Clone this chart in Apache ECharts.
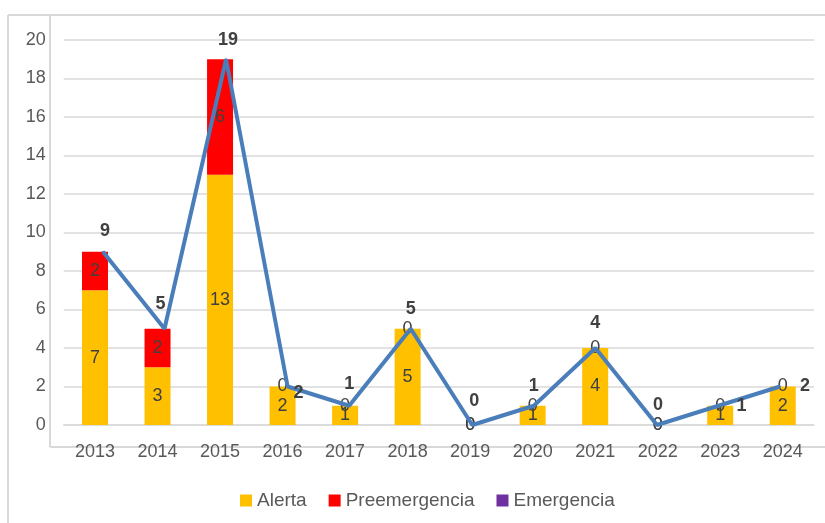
<!DOCTYPE html>
<html>
<head>
<meta charset="utf-8">
<script src="https://cdn.jsdelivr.net/npm/echarts@6/dist/echarts.min.js"></script>
<style>
html,body{margin:0;padding:0;background:#fff;}
#chart{width:825px;height:523px;}
</style>
</head>
<body>
<div id="chart"></div>
<script>
// ---- data ----
var years = ['2013','2014','2015','2016','2017','2018','2019','2020','2021','2022','2023','2024'];
var alerta = [7, 3, 13, 2, 1, 5, 0, 1, 4, 0, 1, 2];
var preemergencia = [2, 2, 6, 0, 0, 0, 0, 0, 0, 0, 0, 0];
var emergencia = [0, 0, 0, 0, 0, 0, 0, 0, 0, 0, 0, 0];
var totals = [9, 5, 19, 2, 1, 5, 0, 1, 4, 0, 1, 2];
var yTicks = { min: 0, max: 20, interval: 2 };

// label placement for total labels (style, not data)
var totalLabelOffsets = [[2,-21],[-4,-25],[2,-19],[11,7],[0,-22],[0,-20],[2,-24],[0,-20],[0,-25],[1,-20],[23,0],[25,0]];

var FONT = 'Liberation Sans';
var labelColor = '#404040';
var axisColor = '#595959';
var gridColor = '#d9d9d9';
var SYM = 2;

var chart = echarts.init(document.getElementById('chart'), null, {renderer: 'canvas'});

var totalData = totals.map(function (v, i) {
  var o = totalLabelOffsets[i];
  return {
    value: v,
    label: { position: [SYM / 2 + o[0], SYM / 2 + o[1]], align: 'center', verticalAlign: 'middle' }
  };
});

var option = {
  backgroundColor: '#ffffff',
  animation: false,
  textStyle: { fontFamily: FONT },
  grid: [
    { left: 63.75, right: 11, top: 40, bottom: 98 },
    { left: 72.2, right: 14.2, top: 40, bottom: 98 }
  ],
  graphic: [
    { type: 'line', shape: {x1: 8, y1: 15, x2: 825, y2: 15}, style: {stroke: gridColor, lineWidth: 2}, z: -1 },
    { type: 'line', shape: {x1: 8, y1: 15, x2: 8, y2: 523}, style: {stroke: gridColor, lineWidth: 2}, z: -1 },
    { type: 'line', shape: {x1: 50, y1: 15, x2: 50, y2: 447}, style: {stroke: gridColor, lineWidth: 2}, z: -1 },
    { type: 'line', shape: {x1: 50, y1: 447, x2: 825, y2: 447}, style: {stroke: gridColor, lineWidth: 2}, z: -1 }
  ],
  legend: {
    data: ['Alerta', 'Preemergencia', 'Emergencia'],
    left: 235,
    top: 486,
    icon: 'rect',
    itemWidth: 12,
    itemHeight: 12,
    itemGap: 22,
    textStyle: { fontFamily: FONT, fontSize: 19, color: axisColor }
  },
  xAxis: [
    {
      type: 'category', gridIndex: 0, data: years,
      axisTick: { show: false },
      axisLine: { show: true, lineStyle: { color: gridColor, width: 1.5 } },
      axisLabel: { fontFamily: FONT, fontSize: 18, color: axisColor, margin: 18 }
    },
    {
      type: 'category', gridIndex: 1, data: years, show: false
    }
  ],
  yAxis: [
    {
      type: 'value', gridIndex: 0, min: yTicks.min, max: yTicks.max, interval: yTicks.interval,
      axisLine: { show: false }, axisTick: { show: false },
      axisLabel: { fontFamily: FONT, fontSize: 18, color: axisColor, margin: 18 },
      splitLine: { lineStyle: { color: gridColor, width: 1.5 } }
    },
    {
      type: 'value', gridIndex: 1, min: yTicks.min, max: yTicks.max, interval: yTicks.interval, show: false
    }
  ],
  series: [
    {
      name: 'Alerta', type: 'bar', stack: 'total', barWidth: 26,
      xAxisIndex: 0, yAxisIndex: 0,
      itemStyle: { color: '#FFC000' },
      label: { show: true, position: 'inside', fontFamily: FONT, fontSize: 18, color: labelColor },
      data: alerta
    },
    {
      name: 'Preemergencia', type: 'bar', stack: 'total', barWidth: 26,
      xAxisIndex: 0, yAxisIndex: 0,
      itemStyle: { color: '#FF0000' },
      label: { show: true, position: 'inside', fontFamily: FONT, fontSize: 18, color: labelColor },
      data: preemergencia
    },
    {
      name: 'Emergencia', type: 'bar', stack: 'total', barWidth: 26,
      xAxisIndex: 0, yAxisIndex: 0,
      itemStyle: { color: '#7030A0' },
      label: { show: false },
      data: emergencia
    },
    {
      name: 'Total', type: 'line',
      xAxisIndex: 1, yAxisIndex: 1,
      symbol: 'circle', symbolSize: SYM, showSymbol: true,
      itemStyle: { color: '#4A7EBB' },
      lineStyle: { color: '#4A7EBB', width: 4 },
      label: {
        show: true,
        fontFamily: FONT, fontSize: 18, fontWeight: 'bold', color: labelColor
      },
      labelLayout: { hideOverlap: false },
      z: 5,
      data: totalData
    }
  ]
};

chart.setOption(option);
</script>
</body>
</html>
